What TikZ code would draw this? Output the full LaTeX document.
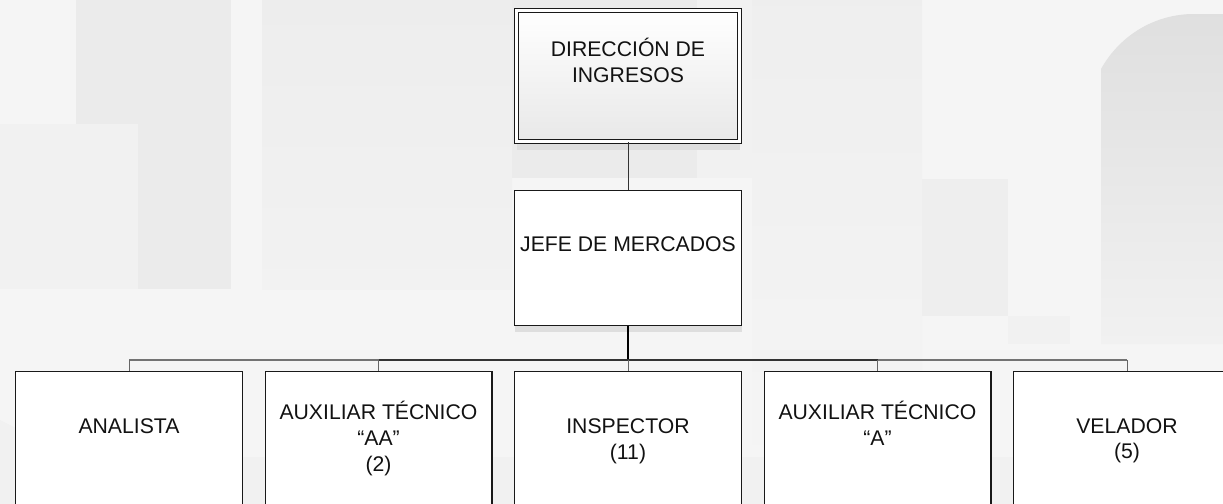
\documentclass[tikz,border=0pt]{standalone}
\usepackage{fontspec}
\setmainfont{Liberation Sans}
\usetikzlibrary{shadows}
\definecolor{bgbase}{gray}{0.962}
\definecolor{bgdark}{gray}{0.922}
\definecolor{bgmid}{gray}{0.945}
\definecolor{bgmid2}{gray}{0.935}
\definecolor{bglight}{gray}{0.968}
\definecolor{shadowc}{gray}{0.87}
\definecolor{inkc}{gray}{0.07}
\tikzset{
  box/.style={rectangle, draw=black!90, line width=0.6pt, fill=white, inner sep=0pt,
    minimum width=113.4pt,
    drop shadow={shadow xshift=0.3pt, shadow yshift=-3.2pt, fill=shadowc, opacity=1}},
  headbox/.style={rectangle, draw=black!90, double=white, double distance=1.5pt, line width=0.5pt,
    top color=white, bottom color=black!9, inner sep=0pt,
    minimum width=111.5pt, minimum height=65.5pt,
    drop shadow={shadow xshift=0.3pt, shadow yshift=-4.3pt, fill=shadowc, opacity=1}},
  txt/.style={align=center, inner sep=0pt, text=inkc, font=\fontsize{10.6}{12.8}\selectfont},
  conn/.style={draw=black!80, line width=0.5pt},
  trunk/.style={draw=black, line width=0.8pt},
  businner/.style={draw=black!80, line width=0.8pt},
  busouter/.style={draw=black!55, line width=0.7pt},
  dropline/.style={draw=black!60, line width=0.5pt}
}
\begin{document}
\begin{tikzpicture}[x=0.5pt,y=-0.5pt]
\useasboundingbox (0,0) rectangle (1223,504);
\clip (0,0) rectangle (1223,504);
% background
\fill[bgbase] (0,0) rectangle (1223,504);
\fill[bgdark] (76,0) rectangle (231,289);
\fill[bgmid] (0,124) rectangle (138,289);
\shade[top color=bgdark!90!white, bottom color=bgmid!80!bgbase] (262,0) rectangle (512,289);
\fill[bgdark] (512,0) rectangle (697,178);
\fill[bgmid] (697,0) rectangle (752,178);
\shade[top color=bgmid2, bottom color=bgbase] (752,0) rectangle (922,504);
\fill[bgmid2] (922,179) rectangle (1008,316);
\fill[bgmid] (1008,316) rectangle (1070,344);
\shade[top color=bgdark!95!black, bottom color=bgmid]
  (1101,344) -- (1101,69) .. controls (1120,35) and (1155,14) .. (1194,14) -- (1223,14) -- (1223,344) -- cycle;
\fill[bgmid] (0,420) -- (20,430) -- (20,504) -- (0,504) -- cycle;
\fill[bgmid] (240,457) rectangle (1223,504);

% nodes
\node[headbox] (top) at (628,76) {};
\node[txt] (ttop) at (628,60.4) {DIRECCIÓN DE\\INGRESOS};
\node[box, minimum height=67.4pt] (jefe) at (628,258) {};
\node[txt] (tjefe) at (628,244.5) {JEFE DE MERCADOS};

\node[box, minimum height=78.9pt] (b1) at (129,450.5) {};
\node[box, minimum height=78.9pt] (b2) at (378.5,450.5) {};
\node[box, minimum height=78.9pt] (b3) at (628,450.5) {};
\node[box, minimum height=78.9pt] (b4) at (877.5,450.5) {};
\node[box, minimum height=78.9pt] (b5) at (1127,450.5) {};

\node[txt] (t1) at (129,426) {ANALISTA};
\node[txt] (t2) at (378.5,438.4) {AUXILIAR TÉCNICO\\“AA”\\(2)};
\node[txt] (t3) at (628,441.4) {INSPECTOR\\(11)};
\node[txt] (t4) at (877.5,423.4) {AUXILIAR TÉCNICO\\“A”};
\node[txt] (t5) at (1127,440.8) {VELADOR\\(5)};

% connectors
\coordinate (bus) at (628,360);
\draw[conn] (top.south) -- (jefe.north);
\draw[trunk] (jefe.south) -- (bus);
\draw[busouter] (b1.north |- bus) -- (b5.north |- bus);
\draw[businner] (b2.north |- bus) -- (b4.north |- bus);
\foreach \i in {1,...,5} {
  \draw[dropline] (b\i.north |- bus) -- (b\i.north);
}
\end{tikzpicture}
\end{document}
